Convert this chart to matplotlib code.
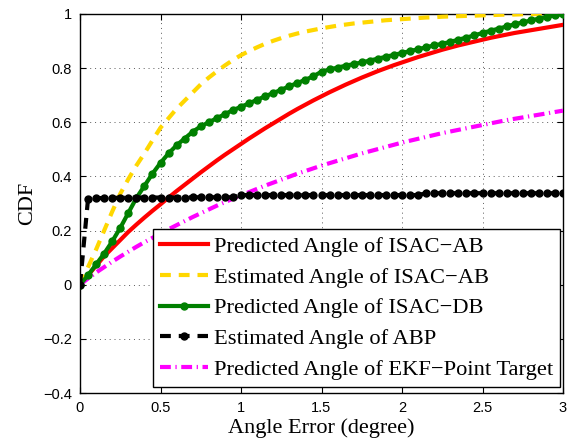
import numpy as np
import matplotlib
matplotlib.use("Agg")
import matplotlib.pyplot as plt
from matplotlib.ticker import FixedLocator, FixedFormatter

# ---------------- data ----------------
x = np.linspace(0, 3, 61)

pred_isac_ab = [0.0, 0.035, 0.07, 0.105, 0.135, 0.165, 0.195, 0.222, 0.248, 0.273,
                0.297, 0.322, 0.346, 0.369, 0.392, 0.415, 0.437, 0.459, 0.48, 0.5,
                0.52, 0.54, 0.559, 0.578, 0.596, 0.614, 0.632, 0.649, 0.665, 0.681,
                0.696, 0.711, 0.725, 0.739, 0.752, 0.765, 0.777, 0.789, 0.8, 0.811,
                0.821, 0.831, 0.841, 0.85, 0.859, 0.868, 0.876, 0.884, 0.891, 0.898,
                0.905, 0.912, 0.918, 0.924, 0.93, 0.935, 0.94, 0.945, 0.95, 0.955, 0.96]

est_isac_ab = [0.0, 0.065, 0.13, 0.2, 0.27, 0.336, 0.39, 0.44, 0.485, 0.533,
               0.58, 0.615, 0.65, 0.68, 0.71, 0.74, 0.765, 0.788, 0.81, 0.83,
               0.848, 0.863, 0.877, 0.89, 0.901, 0.911, 0.92, 0.928, 0.935, 0.941,
               0.947, 0.952, 0.957, 0.961, 0.965, 0.968, 0.971, 0.974, 0.977, 0.979,
               0.981, 0.983, 0.985, 0.987, 0.988, 0.99, 0.991, 0.992, 0.993, 0.994,
               0.995, 0.996, 0.997, 0.998, 0.998, 0.999, 0.999, 1.0, 1.0, 1.0, 1.0]

pred_isac_db = [0.0, 0.035, 0.075, 0.115, 0.16, 0.21, 0.265, 0.32, 0.365, 0.41,
                0.45, 0.485, 0.515, 0.54, 0.565, 0.585, 0.6, 0.615, 0.63, 0.645,
                0.657, 0.67, 0.683, 0.696, 0.708, 0.72, 0.733, 0.745, 0.757, 0.77,
                0.787, 0.795, 0.802, 0.809, 0.815, 0.821, 0.828, 0.835, 0.842, 0.849,
                0.856, 0.863, 0.87, 0.877, 0.884, 0.89, 0.897, 0.905, 0.913, 0.921,
                0.93, 0.938, 0.946, 0.954, 0.962, 0.969, 0.976, 0.983, 0.99, 0.995, 1.0]

est_abp = [0.0, 0.318, 0.32, 0.32, 0.321, 0.321, 0.321, 0.322, 0.322, 0.322,
           0.322, 0.322, 0.322, 0.322, 0.323, 0.323, 0.323, 0.323, 0.323, 0.323,
           0.331, 0.331, 0.331, 0.331, 0.331, 0.331, 0.331, 0.331, 0.331, 0.331,
           0.331, 0.331, 0.331, 0.331, 0.331, 0.331, 0.331, 0.331, 0.331, 0.331,
           0.331, 0.331, 0.331, 0.338, 0.338, 0.338, 0.338, 0.338, 0.338, 0.338,
           0.338, 0.338, 0.338, 0.338, 0.338, 0.338, 0.338, 0.338, 0.338, 0.338, 0.338]

pred_ekf = [0.0, 0.023, 0.045, 0.065, 0.085, 0.104, 0.122, 0.14, 0.157, 0.173,
            0.189, 0.205, 0.22, 0.235, 0.25, 0.264, 0.278, 0.292, 0.305, 0.318,
            0.33, 0.342, 0.354, 0.366, 0.377, 0.388, 0.399, 0.41, 0.42, 0.43,
            0.44, 0.449, 0.458, 0.467, 0.476, 0.485, 0.493, 0.501, 0.509, 0.517,
            0.525, 0.532, 0.539, 0.546, 0.553, 0.56, 0.566, 0.572, 0.578, 0.584,
            0.59, 0.596, 0.602, 0.608, 0.613, 0.618, 0.623, 0.628, 0.633, 0.638, 0.643]

labels = ["Predicted Angle of ISAC\u2212AB",
          "Estimated Angle of ISAC\u2212AB",
          "Predicted Angle of ISAC\u2212DB",
          "Estimated Angle of ABP",
          "Predicted Angle of EKF\u2212Point Target"]

xticks = [0, 0.5, 1, 1.5, 2, 2.5, 3]
xticklabels = ["0", "0.5", "1", "1.5", "2", "2.5", "3"]
yticks = [-0.4, -0.2, 0, 0.2, 0.4, 0.6, 0.8, 1]
yticklabels = ["\u22120.4", "\u22120.2", "0", "0.2", "0.4", "0.6", "0.8", "1"]

# ---------------- figure ----------------
serif = ["Liberation Serif", "DejaVu Serif"]
sans = ["Liberation Sans", "DejaVu Sans"]

fig = plt.figure(figsize=(5.67, 4.40), dpi=100)
ax = fig.add_axes([80 / 567, 1 - 393 / 440, 483 / 567, 379 / 440])

lw = 3.0
ax.plot(x, pred_isac_ab, color="#ff0000", lw=lw, ls="-", label=labels[0], zorder=3)
ax.plot(x, est_isac_ab, color="#ffd700", lw=lw, ls=(0, (2.6, 1.9)), label=labels[1], zorder=3)
ax.plot(x, pred_isac_db, color="#008000", lw=lw, ls="-", marker="o", ms=5.0,
        mec="#008000", mfc="#008000", label=labels[2], zorder=4)
ax.plot(x, est_abp, color="black", lw=lw, ls=(0, (2.6, 1.9)), marker="o", ms=5.0,
        mec="black", mfc="black", label=labels[3], zorder=5)
ax.plot(x, pred_ekf, color="#ff00ff", lw=lw, ls=(0, (2.6, 1.1, 0.3, 1.1)),
        label=labels[4], zorder=3)

ax.set_xlim(0, 3)
ax.set_ylim(-0.4, 1)
ax.xaxis.set_major_locator(FixedLocator(xticks))
ax.xaxis.set_major_formatter(FixedFormatter(xticklabels))
ax.yaxis.set_major_locator(FixedLocator(yticks))
ax.yaxis.set_major_formatter(FixedFormatter(yticklabels))

ax.tick_params(direction="in", length=4, width=0.8, top=True, right=True,
               labelsize=10.5, pad=6)
for t in ax.get_xticklabels() + ax.get_yticklabels():
    t.set_family(sans)

ax.grid(True, color="0.35", ls=(0, (1, 4)), lw=0.7)
for s in ax.spines.values():
    s.set_linewidth(1.0)

ax.set_xlabel("Angle Error (degree)", family=serif, fontsize=16, labelpad=2)
ax.set_ylabel("CDF", family=serif, fontsize=16, labelpad=4)

leg = ax.legend(loc="lower right", bbox_to_anchor=(0.994, 0.016), borderaxespad=0,
                prop={"family": serif, "size": 16.2}, frameon=True, fancybox=False,
                framealpha=1, edgecolor="black", handlelength=2.15,
                handletextpad=0.25, labelspacing=0.45, borderpad=0.3)
leg.get_frame().set_linewidth(1.0)

fig.savefig("out.png", dpi=100)
